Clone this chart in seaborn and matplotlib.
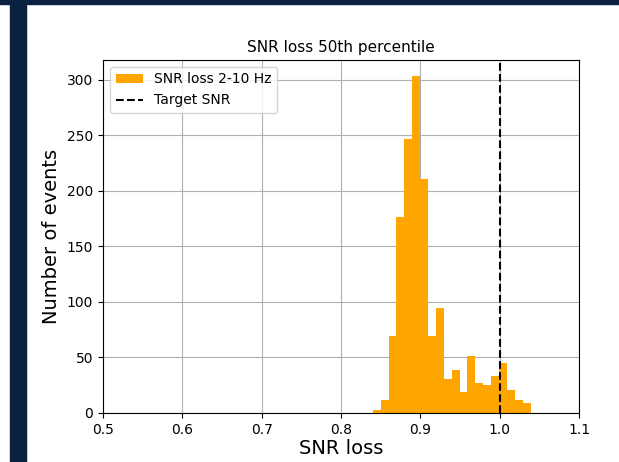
import numpy as np
import pandas as pd
import matplotlib
matplotlib.use("Agg")
import matplotlib.pyplot as plt
import seaborn as sns
from matplotlib.patches import Rectangle

# Histogram data (20 bins)
bin_lo, bin_hi, n_bins = 0.840, 1.039, 20
counts = [3, 12, 69, 177, 247, 304, 211, 69, 95, 31,
          39, 19, 51, 27, 25, 33, 45, 21, 12, 9]
target_snr = 1.0
x_ticks = [0.5, 0.6, 0.7, 0.8, 0.9, 1.0, 1.1]
y_ticks = [0, 50, 100, 150, 200, 250, 300]

bin_edges = np.linspace(bin_lo, bin_hi, n_bins + 1)
centers = (bin_edges[:-1] + bin_edges[1:]) / 2
df = pd.DataFrame({"snr": centers, "n": counts})

fig = plt.figure(figsize=(6.19, 4.62), dpi=100)
ax = fig.add_axes([103/619, 49/462, 476/619, 353/462])

sns.histplot(data=df, x="snr", weights="n", bins=n_bins,
             binrange=(bin_lo, bin_hi), ax=ax,
             color="orange", alpha=1.0, edgecolor="none", linewidth=0,
             label="SNR loss 2-10 Hz", zorder=2)
ax.axvline(target_snr, color="black", linestyle="--", linewidth=1.5,
           label="Target SNR", zorder=3)

ax.set_xlim(0.5, 1.1)
ax.set_ylim(0, 318)
ax.set_xticks(x_ticks)
ax.set_xticklabels([f"{t:.1f}" for t in x_ticks])
ax.set_yticks(y_ticks)
ax.grid(True, color="#b0b0b0", linewidth=0.8, zorder=0)
ax.set_axisbelow(True)
ax.set_title("SNR loss 50th percentile", fontsize=11)
ax.set_xlabel("SNR loss", fontsize=14, labelpad=2)
ax.set_ylabel("Number of events", fontsize=14)

handles, labels = ax.get_legend_handles_labels()
order = [labels.index("SNR loss 2-10 Hz"), labels.index("Target SNR")]
ax.legend([handles[i] for i in order], [labels[i] for i in order],
          loc="upper left", fontsize=10)

# navy slide border
navy = "#0a2140"
fig.patches.append(Rectangle((0, 1 - 4/462), 1, 4/462, transform=fig.transFigure,
                             color=navy, zorder=10))
fig.patches.append(Rectangle((10/619, 0), 16/619, 1, transform=fig.transFigure,
                             color=navy, zorder=10))

fig.savefig("out.png", dpi=100)
